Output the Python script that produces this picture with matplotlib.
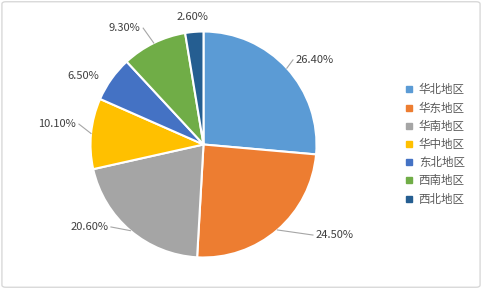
import numpy as np
import matplotlib
matplotlib.use('Agg')
import matplotlib.pyplot as plt
from matplotlib.lines import Line2D
from matplotlib.patches import FancyBboxPatch

plt.rcParams['font.family'] = ['Noto Sans CJK SC', 'DejaVu Sans']

# data
regions = ['华北地区', '华东地区', '华南地区', '华中地区', '东北地区', '西南地区', '西北地区']
shares = [26.4, 24.5, 20.6, 10.1, 6.5, 9.3, 2.6]
colors = ['#5B9BD5', '#ED7D31', '#A5A5A5', '#FFC000', '#4472C4', '#70AD47', '#255E91']

# label layout (angle in deg, radius of leader end, draw leader?)
lab_ang = [43.4, -39.6, -138.3, 170.7, 146.0, 117.4, 94.9]
lab_r = [1.09, 1.257, 1.097, 1.117, 1.083, 1.16, 1.13]
leader = [True, True, True, True, False, True, False]

W, H = 482, 289
fig = plt.figure(figsize=(W / 100, H / 100), dpi=100)

# rounded grey frame like the excel chart area
fig.patches.append(FancyBboxPatch((0.004, 0.006), 0.992, 0.988, boxstyle='round,pad=0,rounding_size=0.008',
                                  transform=fig.transFigure, fc='none', ec='#D9D9D9', lw=1.0, zorder=5))

ax = fig.add_axes([0, 0, 1, 1])
ax.patch.set_alpha(0)
scale = 113.0  # px per unit radius
cx, cy = 203.5, 144.5

wedges, _ = ax.pie(shares, colors=colors, startangle=90, counterclock=False,
                   wedgeprops=dict(edgecolor='white', linewidth=1.5))
ax.set_xlim(-cx / scale, (W - cx) / scale)
ax.set_ylim(-(H - cy) / scale, cy / scale)
ax.set_aspect('auto')
ax.axis('off')

for w, v, a, r, ld in zip(wedges, shares, lab_ang, lab_r, leader):
    mid = np.deg2rad((w.theta1 + w.theta2) / 2)
    ex, ey = r * np.cos(np.deg2rad(a)), r * np.sin(np.deg2rad(a))
    if ld:
        ax.plot([np.cos(mid), ex], [np.sin(mid), ey], color='#A6A6A6', lw=0.8)
    if abs(ex) < 0.2:
        ha, dx = 'center', 0
    elif ex > 0:
        ha, dx = 'left', 2
    else:
        ha, dx = 'right', -2
    ax.annotate('%.2f%%' % v, (ex, ey), xytext=(dx, 0), textcoords='offset points',
                ha=ha, va='center', fontsize=8, color='#404040')

handles = [Line2D([], [], marker='s', ls='none', color=c, markersize=4.5) for c in colors]
ax.legend(handles, regions, loc='center left', bbox_to_anchor=(405 / W, 0.5), frameon=False,
          fontsize=8.3, labelcolor='#595959', handlelength=0.7, handletextpad=0.5,
          labelspacing=0.45, borderaxespad=0, borderpad=0)

fig.savefig('out.png', dpi=100)
